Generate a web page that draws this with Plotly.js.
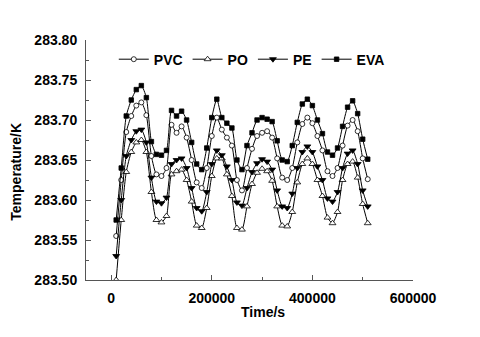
<!DOCTYPE html>
<html>
<head>
<meta charset="utf-8">
<script src="https://cdn.plot.ly/plotly-3.0.1.min.js"></script>
<style>
  html, body { margin: 0; padding: 0; background: #fff; }
  #chart { width: 480px; height: 337px; }
</style>
</head>
<body>
<div id="chart"></div>
<script>
//----------------------------------DATA----------------------------------//

const times = [
  10000, 20000, 30000, 40000, 50000, 60000, 70000, 80000, 90000, 100000,
  110000, 120000, 130000, 140000, 150000, 160000, 170000, 180000, 190000, 200000,
  210000, 220000, 230000, 240000, 250000, 260000, 270000, 280000, 290000, 300000,
  310000, 320000, 330000, 340000, 350000, 360000, 370000, 380000, 390000, 400000,
  410000, 420000, 430000, 440000, 450000, 460000, 470000, 480000, 490000, 500000,
  510000
];

const pvc = [
  283.555, 283.625, 283.685, 283.705, 283.718, 283.722, 283.706, 283.655, 283.632, 283.630,
  283.640, 283.694, 283.684, 283.692, 283.678, 283.650, 283.622, 283.615, 283.640, 283.680,
  283.703, 283.688, 283.678, 283.668, 283.625, 283.612, 283.640, 283.664, 283.680, 283.684,
  283.686, 283.678, 283.652, 283.628, 283.625, 283.640, 283.672, 283.695, 283.703, 283.696,
  283.680, 283.662, 283.636, 283.630, 283.640, 283.668, 283.693, 283.700, 283.686, 283.652,
  283.626
];

const po = [
  283.500, 283.575, 283.635, 283.660, 283.672, 283.675, 283.660, 283.610, 283.575, 283.572,
  283.580, 283.632, 283.636, 283.638, 283.625, 283.598, 283.568, 283.565, 283.590, 283.630,
  283.652, 283.652, 283.632, 283.605, 283.565, 283.563, 283.592, 283.620, 283.634, 283.639,
  283.636, 283.624, 283.592, 283.568, 283.567, 283.585, 283.622, 283.645, 283.652, 283.645,
  283.625, 283.605, 283.578, 283.571, 283.585, 283.625, 283.645, 283.648, 283.628, 283.595,
  283.571
];

const pe = [
  283.530, 283.600, 283.655, 283.675, 283.686, 283.688, 283.672, 283.628, 283.598, 283.596,
  283.603, 283.645, 283.650, 283.652, 283.640, 283.615, 283.590, 283.586, 283.610, 283.645,
  283.662, 283.656, 283.642, 283.625, 283.597, 283.593, 283.615, 283.635, 283.646, 283.651,
  283.648, 283.638, 283.612, 283.592, 283.590, 283.608, 283.640, 283.660, 283.667, 283.660,
  283.642, 283.625, 283.602, 283.598, 283.610, 283.640, 283.658, 283.662, 283.645, 283.612,
  283.592
];

const eva = [
  283.575, 283.640, 283.705, 283.725, 283.738, 283.743, 283.728, 283.673, 283.657, 283.656,
  283.662, 283.712, 283.705, 283.711, 283.700, 283.672, 283.645, 283.638, 283.665, 283.703,
  283.726, 283.703, 283.696, 283.690, 283.650, 283.638, 283.668, 283.684, 283.700, 283.703,
  283.701, 283.698, 283.674, 283.650, 283.648, 283.668, 283.697, 283.720, 283.726, 283.718,
  283.700, 283.683, 283.660, 283.656, 283.665, 283.692, 283.716, 283.724, 283.708, 283.676,
  283.651
];

const seriesNames = ["PVC", "PO", "PE", "EVA"];
const seriesValues = [pvc, po, pe, eva];

const xTicks = [0, 200000, 400000, 600000];
const yTicks = [283.50, 283.55, 283.60, 283.65, 283.70, 283.75, 283.80];

//----------------------------------STYLE----------------------------------//

const markerStyles = {
  "PVC": { symbol: "circle", color: "white", size: 5 },
  "PO": { symbol: "triangle-up", color: "white", size: 6 },
  "PE": { symbol: "triangle-down", color: "black", size: 6 },
  "EVA": { symbol: "square", color: "black", size: 4.5 }
};

const boldFont = { family: "Arial, 'Liberation Sans', sans-serif", size: 14, color: "#000", weight: "bold" };

//----------------------------------PLOT----------------------------------//

function buildTraces() {
  return seriesNames.map((name, i) => ({
    type: "scatter",
    mode: "lines+markers",
    name: name,
    x: times,
    y: seriesValues[i],
    line: { color: "black", width: 1, shape: "spline", smoothing: 0.6 },
    marker: {
      symbol: markerStyles[name].symbol,
      color: markerStyles[name].color,
      size: markerStyles[name].size,
      line: { color: "black", width: 0.8 }
    }
  }));
}

function drawChart() {
  const axisColor = "#555";

  let layout = {
    width: 480,
    height: 337,
    paper_bgcolor: "white",
    plot_bgcolor: "white",
    margin: { l: 86, r: 67, t: 40, b: 57 },
    font: boldFont,
    showlegend: true,
    legend: {
      orientation: "h",
      x: 0.085,
      y: 0.985,
      xanchor: "left",
      yanchor: "top",
      bgcolor: "rgba(0,0,0,0)",
      font: boldFont,
      itemwidth: 30,
      tracegroupgap: 0
    },
    xaxis: {
      range: [-50000, 600000],
      tickvals: xTicks,
      ticktext: xTicks.map(String),
      ticks: "inside",
      ticklen: 5,
      tickcolor: axisColor,
      minor: { dtick: 100000, tick0: 0, ticks: "inside", ticklen: 3, tickcolor: axisColor },
      showline: true,
      linecolor: axisColor,
      linewidth: 1,
      showgrid: false,
      zeroline: false,
      ticklabelstandoff: 5,
      tickfont: boldFont
    },
    yaxis: {
      range: [283.50, 283.80],
      tickvals: yTicks,
      ticktext: yTicks.map(v => v.toFixed(2)),
      ticks: "inside",
      ticklen: 5,
      tickcolor: axisColor,
      minor: { dtick: 0.025, tick0: 283.5, ticks: "inside", ticklen: 3, tickcolor: axisColor },
      showline: true,
      linecolor: axisColor,
      linewidth: 1,
      showgrid: false,
      zeroline: false,
      ticklabelstandoff: 5,
      tickfont: boldFont
    },
    annotations: [
      {
        text: "Time/s", xref: "paper", yref: "paper",
        x: 0.54, y: -0.09, xanchor: "center", yanchor: "top",
        showarrow: false, font: boldFont
      },
      {
        text: "Temperature/K", xref: "paper", yref: "paper",
        x: -0.215, y: 0.45, xanchor: "center", yanchor: "middle",
        textangle: -90, showarrow: false, font: boldFont
      }
    ]
  };

  Plotly.newPlot("chart", buildTraces(), layout, { displayModeBar: false, staticPlot: true });
}

window.addEventListener("DOMContentLoaded", () => {
  drawChart();
});
</script>
</body>
</html>
